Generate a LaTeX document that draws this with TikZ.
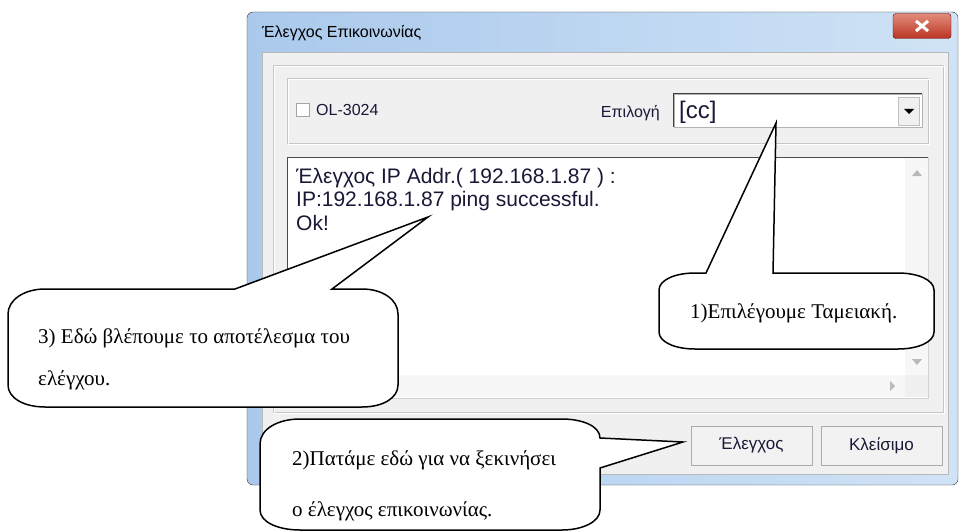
\documentclass[tikz,border=0pt]{standalone}
\usepackage{fontspec}
\setmainfont{Liberation Serif}
\setsansfont{Liberation Sans}
\definecolor{framel}{RGB}{170,201,236}
\definecolor{framer}{RGB}{208,227,246}
\definecolor{clientgray}{RGB}{240,240,240}
\definecolor{uitext}{RGB}{25,25,55}
\definecolor{closetop}{RGB}{226,140,122}
\definecolor{closebot}{RGB}{186,52,36}

\begin{document}
\begin{tikzpicture}[x=1pt, y=-1pt,
  ui/.style={font=\sffamily\fontsize{16}{18}\selectfont, text=uitext, inner sep=0pt},
  logtext/.style={font=\sffamily\fontsize{21}{23}\selectfont, text=uitext, inner sep=0pt, anchor=base west},
  notetext/.style={font=\rmfamily\fontsize{21}{24}\selectfont, inner sep=0pt, anchor=west},
  balloon/.style={draw=black, line width=1.5pt, fill=white},
  etched/.style={draw=gray!45},
  winbutton/.style={ui, draw=gray!65, fill=gray!10, minimum width=121pt, minimum height=39pt, font=\sffamily\fontsize{17}{19}\selectfont},
  scrollarrow/.style={fill=gray!55}]
\useasboundingbox (0,0) rectangle (960,532);

% window frame and title
\shade[left color=framel, right color=framer, draw=gray!40!black, rounded corners=6pt] (247,12) rectangle (958,485);
\node[ui, anchor=west, text=black] (title) at (262,33) {Έλεγχος Επικοινωνίας};
\node[draw=red!35!black, top color=closetop, bottom color=closebot, rounded corners=3pt, minimum width=58pt, minimum height=25pt, inner sep=0pt] (close) at (922,26) {};
\draw[white, line width=3pt] ([shift={(-6,-5)}]close.center) -- ([shift={(6,5)}]close.center);
\draw[white, line width=3pt] ([shift={(-6,5)}]close.center) -- ([shift={(6,-5)}]close.center);
\fill[clientgray, draw=gray!55] (262,52) rectangle (948,474);

% panel and group box
\draw[etched] (273,65) rectangle (943,412);
\draw[white] (274,66) rectangle (944,413);
\draw[etched] (287,78) rectangle (928,143);
\draw[white] (288,79) rectangle (929,144);

\node[draw=gray!70, fill=white, minimum size=13pt, inner sep=0pt] (box) at (303,110) {};
\node[ui, anchor=west] (ol) at (316,110) {OL-3024};
\node[ui, anchor=east] (sel) at (660,113) {Επιλογή};
\node[draw=gray!60, fill=white, minimum width=248pt, minimum height=33pt, inner sep=0pt] (combo) at (798,110.5) {};
\draw[gray!50!black, line width=1.2pt] (combo.south west) -- (combo.north west) -- (combo.north east);
\node[fill=gray!12, draw=gray!50, minimum width=21pt, minimum height=28pt, inner sep=0pt] (drop) at (909,111) {};
\fill (drop.center) ++(-5,-2) -- ++(10,0) -- ++(-5,5) -- cycle;
\node[ui, anchor=west, font=\sffamily\fontsize{24}{26}\selectfont] (cc) at (679,112) {[cc]};

% log area
\fill[white] (287,157) rectangle (928,398);
\fill[gray!6] (905,158) rectangle (928,375);
\fill[gray!6] (288,375) rectangle (905,397);
\fill[gray!12] (905,375) rectangle (928,397);
\draw[gray!60!black] (287,398) -- (287,157) -- (928,157);
\draw[gray!35] (928,157) -- (928,398) -- (287,398);
\fill[scrollarrow] (912,176) -- (922,176) -- (917,170) -- cycle;
\fill[scrollarrow] (912,359) -- (922,359) -- (917,365) -- cycle;
\fill[scrollarrow] (890,381) -- (890,391) -- (895,386) -- cycle;

\node[logtext] (log1) at (296,183) {Έλεγχος IP Addr.( 192.168.1.87 ) :};
\node[logtext] (log2) at (296,206) {IP:192.168.1.87 ping successful.};
\node[logtext] (log3) at (296,230) {Ok!};

% buttons
\node[winbutton] (check) at (751.5,445.5) {Έλεγχος};
\node[winbutton] (closebtn) at (881.5,445.5) {Κλείσιμο};

% callouts
\coordinate (tip1) at (776,123);
\coordinate (tip2) at (683,442);
\coordinate (tip3) at (428,217);

\draw[balloon] (659,290) .. controls (659,280) and (675,273) .. (695,273) -- (706,273) -- (tip1) -- (773,273) -- (898,273)
  .. controls (918,273) and (934,280) .. (934,290) -- (934,332) .. controls (934,342) and (918,349) .. (898,349)
  -- (695,349) .. controls (675,349) and (659,342) .. (659,332) -- cycle;
\node[notetext] (note1) at (690,313) {1)Επιλέγουμε Ταμειακή.};

\draw[balloon] (260,444) .. controls (260,429) and (278,419) .. (300,419) -- (562,419) .. controls (582,419) and (600,426) .. (600,438)
  -- (tip2) -- (600,468) -- (600,510) .. controls (600,522) and (582,530) .. (562,530)
  -- (300,530) .. controls (278,530) and (260,522) .. (260,510) -- cycle;
\node[notetext] (note2a) at (292,460) {2)Πατάμε εδώ για να ξεκινήσει};
\node[notetext] (note2b) at (292,511) {ο έλεγχος επικοινωνίας.};

\draw[balloon] (8,314) .. controls (8,300) and (24,289) .. (45,289) -- (235,289) -- (tip3) -- (332,289) -- (362,289)
  .. controls (383,289) and (398,300) .. (398,314) -- (398,385) .. controls (398,398) and (383,407) .. (362,407)
  -- (45,407) .. controls (24,407) and (8,398) .. (8,385) -- cycle;
\node[notetext] (note3a) at (38,338) {3) Εδώ βλέπουμε το αποτέλεσμα του};
\node[notetext] (note3b) at (38,380) {ελέγχου.};
\end{tikzpicture}
\end{document}
